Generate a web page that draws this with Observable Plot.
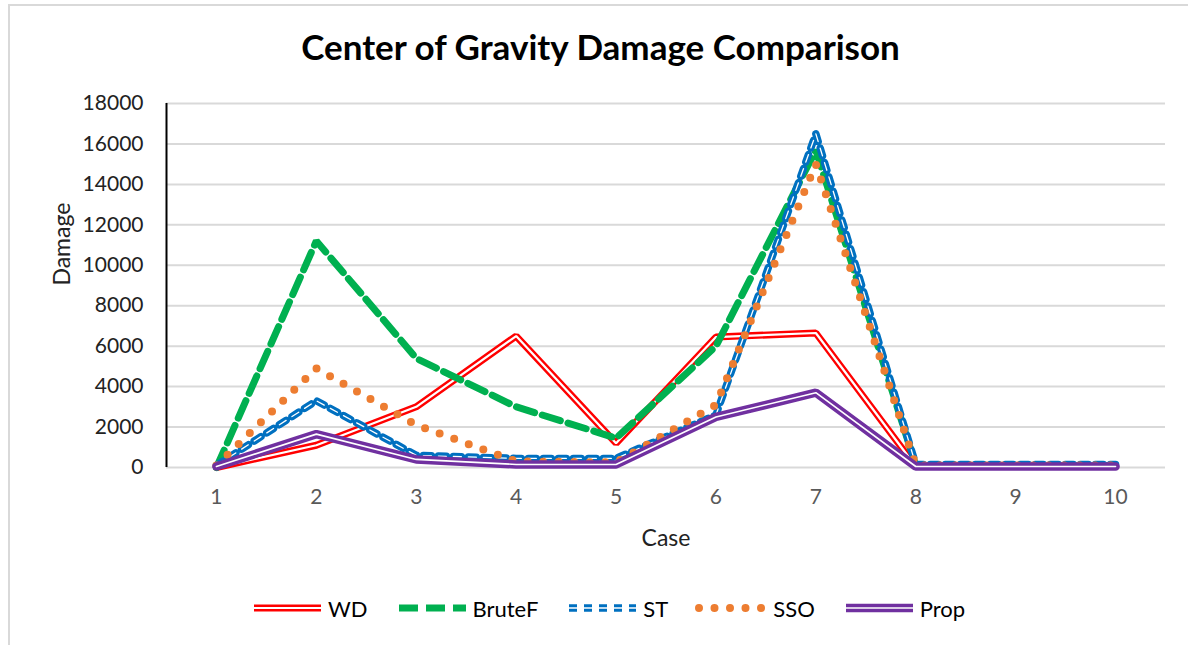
<!DOCTYPE html>
<html><head><meta charset="utf-8">
<script src="https://cdn.jsdelivr.net/npm/d3@7"></script>
<script src="https://cdn.jsdelivr.net/npm/@observablehq/plot@0.6"></script>
<style>
html,body{margin:0;padding:0;background:#fff;}
#page{position:relative;width:1188px;height:645px;overflow:hidden;font-family:Lato,"Open Sans",sans-serif;background:#fff;}
#frame{position:absolute;left:8px;top:4px;width:1300px;height:800px;border-left:2px solid #d9d9d9;border-top:2px solid #d9d9d9;}
#title{position:absolute;left:0;width:1201px;top:24px;text-align:center;font-weight:700;font-size:35px;line-height:44px;color:#000;}
#chart{position:absolute;left:0;top:80px;}
#legend{position:absolute;left:250px;top:594px;display:flex;align-items:center;height:28px;font-size:22px;color:#000;}
.item{display:flex;align-items:center;margin-right:27px;}
.item svg{margin-right:3px;display:block;}
</style></head><body>
<div id="page"><div id="frame"></div><div id="title">Center of Gravity Damage Comparison</div><div id="chart"></div><div id="legend"></div></div>
<script>
const cases = [1, 2, 3, 4, 5, 6, 7, 8, 9, 10];
const seriesNames = ["WD", "BruteF", "ST", "SSO", "Prop"];
const WD = [0, 1100, 3000, 6500, 1200, 6450, 6650, 50, 50, 50];
const BruteF = [0, 11200, 5400, 3000, 1450, 6000, 15700, 100, 100, 100];
const ST = [100, 3300, 600, 450, 450, 2600, 16500, 150, 150, 150];
const SSO = [100, 4900, 2100, 300, 250, 3100, 15000, 100, 100, 100];
const Prop = [50, 1650, 400, 150, 150, 2500, 3700, 50, 50, 50];
const yTicks = [0, 2000, 4000, 6000, 8000, 10000, 12000, 14000, 16000, 18000];

const valuesBySeries = {WD, BruteF, ST, SSO, Prop};
const rows = seriesNames.flatMap(s => cases.map((c, i) => ({series: s, case: c, value: valuesBySeries[s][i]})));

// layered stroke styles per series (drawn bottom to top)
const styles = {
  WD: [{stroke: "#ff0000", strokeWidth: 7}, {stroke: "#ffffff", strokeWidth: 2.2}],
  BruteF: [{stroke: "#00b050", strokeWidth: 7, strokeDasharray: "19 8"}],
  ST: [{stroke: "#0070c0", strokeWidth: 7.5, strokeDasharray: "8 7"}, {stroke: "#ffffff", strokeWidth: 1.3, strokeDasharray: "8 7"}],
  SSO: [{stroke: "#ed7d31", strokeWidth: 8, strokeDasharray: "0 15.5", strokeLinecap: "round"}],
  Prop: [{stroke: "#7030a0", strokeWidth: 8.5}, {stroke: "#ffffff", strokeWidth: 1.6}]
};

const lineMarks = seriesNames.flatMap(s => styles[s].map(st =>
  Plot.line(rows.filter(r => r.series === s), {x: "case", y: "value", strokeLinejoin: "miter", ...st})
));

const chart = Plot.plot({
  width: 1188,
  height: 490,
  marginLeft: 166,
  marginRight: 23,
  marginTop: 23,
  marginBottom: 103,
  style: {fontFamily: "Lato, 'Open Sans', sans-serif", background: "transparent", overflow: "visible"},
  x: {type: "linear", domain: [0.5, 10.5]},
  y: {domain: [0, 18000]},
  marks: [
    Plot.ruleY(yTicks, {stroke: "#d9d9d9", strokeWidth: 2}),
    Plot.ruleX([0.5], {stroke: "#000", strokeWidth: 2}),
    ...lineMarks,
    Plot.axisY(yTicks, {tickSize: 0, tickPadding: 23, fontSize: 21, fill: "#222", tickFormat: d3.format("d"), label: null}),
    Plot.axisX(cases, {tickSize: 0, tickPadding: 22, fontSize: 21, fill: "#595959", tickFormat: d3.format("d"), label: null}),
    Plot.text(["Damage"], {frameAnchor: "left", dx: -104, rotate: -90, fontSize: 23, fill: "#222"}),
    Plot.text(["Case"], {frameAnchor: "bottom", dy: 71, lineAnchor: "middle", fontSize: 23, fill: "#222"})
  ]
});
document.getElementById("chart").appendChild(chart);

// legend
const legend = document.getElementById("legend");
for (const s of seriesNames) {
  const item = document.createElement("div");
  item.className = "item";
  const svg = d3.create("svg").attr("width", 75).attr("height", 14);
  for (const st of styles[s]) {
    svg.append("line").attr("x1", 4).attr("x2", 71).attr("y1", 7).attr("y2", 7)
      .attr("stroke", st.stroke).attr("stroke-width", st.strokeWidth)
      .attr("stroke-dasharray", st.strokeDasharray || null)
      .attr("stroke-linecap", st.strokeLinecap || "butt");
  }
  item.appendChild(svg.node());
  const label = document.createElement("span");
  label.textContent = s;
  item.appendChild(label);
  legend.appendChild(item);
}
</script>
</body></html>
